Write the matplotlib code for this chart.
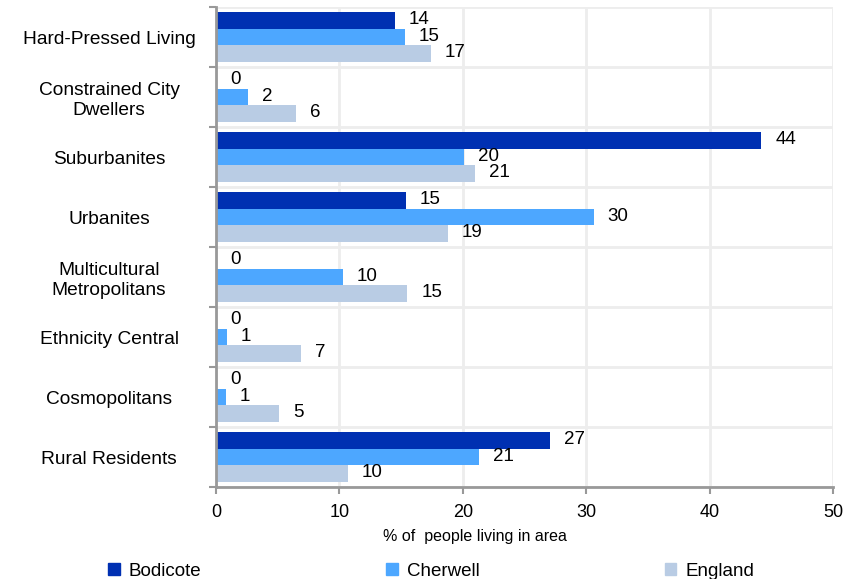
import numpy as np
import matplotlib
matplotlib.use("Agg")
import matplotlib.pyplot as plt
from matplotlib.patches import Patch

plt.rcParams['font.family'] = ['Liberation Sans', 'DejaVu Sans']

categories = ["Hard-Pressed Living", "Constrained City\nDwellers", "Suburbanites",
              "Urbanites", "Multicultural\nMetropolitans", "Ethnicity Central",
              "Cosmopolitans", "Rural Residents"]

# bar lengths (% of people living in area)
bodicote = [14.5, 0.0, 44.2, 15.4, 0.0, 0.0, 0.0, 27.1]
cherwell = [15.3, 2.6, 20.1, 30.6, 10.3, 0.9, 0.8, 21.3]
england = [17.4, 6.5, 21.0, 18.8, 15.5, 6.9, 5.1, 10.7]

# data label text as printed on the chart
bodicote_lbl = ["14", "0", "44", "15", "0", "0", "0", "27"]
cherwell_lbl = ["15", "2", "20", "30", "10", "1", "1", "21"]
england_lbl = ["17", "6", "21", "19", "15", "7", "5", "10"]

series = ["Bodicote", "Cherwell", "England"]
colors = ["#0030B2", "#4DA7FF", "#B9CCE4"]

fig = plt.figure(figsize=(8.55, 5.79), dpi=100)
ax = fig.add_axes([216/855, 1 - 487/579, (833-216)/855, (487-7)/579])

y = np.arange(len(categories))
h = 0.275
for vals, lbls, off, col in zip([bodicote, cherwell, england],
                                [bodicote_lbl, cherwell_lbl, england_lbl],
                                [-h, 0, h], colors):
    ax.barh(y + off, vals, height=h, color=col, zorder=3)
    for yi, v, t in zip(y, vals, lbls):
        ax.annotate(t, (v, yi + off), xytext=(10, 0.5), textcoords="offset points",
                    ha="left", va="center", fontsize=13.5, color="black", zorder=4)

ax.set_xlim(0, 50)
ax.set_ylim(len(categories) - 0.5, -0.5)
ax.set_xticks([0, 10, 20, 30, 40, 50])
ax.set_yticks(y)
ax.set_yticks(np.arange(len(categories) + 1) - 0.5, minor=True)
ax.set_yticklabels(categories, fontsize=13.8, ha="center", multialignment="center")
ax.tick_params(axis="y", which="major", length=0, pad=77)
ax.tick_params(axis="y", which="minor", length=5, width=1.5, color="#999999")
ax.tick_params(axis="x", which="major", length=5, width=1.5, color="#999999",
               labelsize=13, pad=7)

ax.grid(axis="x", color="#EDEDED", linewidth=2, zorder=0)
ax.grid(axis="y", which="minor", color="#EDEDED", linewidth=2, zorder=0)
for s in ["top", "right"]:
    ax.spines[s].set_visible(False)
for s in ["left", "bottom"]:
    ax.spines[s].set_color("#999999")
    ax.spines[s].set_linewidth(2)
    ax.spines[s].set_zorder(5)

ax.set_xlabel("% of  people living in area", fontsize=11.5)
ax.xaxis.set_label_coords((475-216)/617, -0.088)

handles = [Patch(color=c, label=s) for s, c in zip(series, colors)]
fig.legend(handles=handles, loc="center left", bbox_to_anchor=(108/855, 1 - 571/579),
           ncol=3, frameon=False, fontsize=13.5, handlelength=0.62, handleheight=0.62,
           handletextpad=0.5, columnspacing=9.85, borderpad=0, borderaxespad=0)

fig.savefig("out.png", dpi=100)
